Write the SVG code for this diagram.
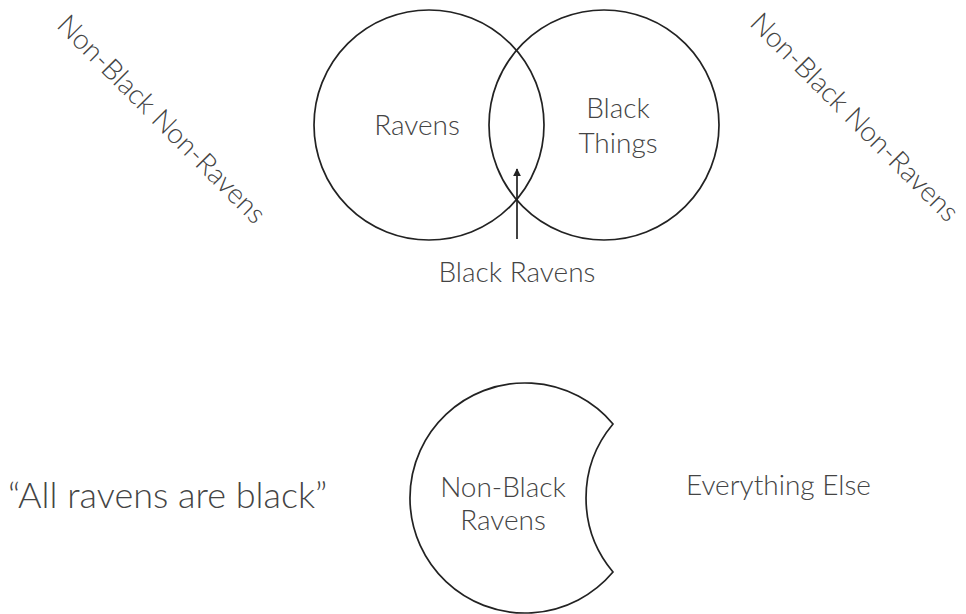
<svg xmlns="http://www.w3.org/2000/svg" width="966" height="614" viewBox="0 0 966 614">
<defs>
<style>
.t{font-family:Lato,"Open Sans","Liberation Sans",sans-serif;fill:#444;font-weight:300;font-size:28px}
.s{fill:none;stroke:#222;stroke-width:1.7}
</style>
<marker id="ah" viewBox="0 0 10 10" refX="9" refY="5" markerWidth="8" markerHeight="8" markerUnits="userSpaceOnUse" orient="auto">
<path d="M0,0 L10,5 L0,10 Z" fill="#222"/>
</marker>
</defs>
<rect width="966" height="614" fill="#fff"/>
<g id="ravens">
<circle class="s" cx="429" cy="125" r="115"/>
<text class="t" x="417" y="135" text-anchor="middle">Ravens</text>
</g>
<g id="black-things">
<circle class="s" cx="604" cy="125" r="115"/>
<text class="t" x="618" y="118" text-anchor="middle">Black</text>
<text class="t" x="618" y="153" text-anchor="middle">Things</text>
</g>
<g id="black-ravens">
<text class="t" x="517" y="282" text-anchor="middle">Black Ravens</text>
</g>
<g id="non-black-left">
<text class="t" text-anchor="middle" transform="translate(155,126) rotate(45)">Non-Black Non-Ravens</text>
</g>
<g id="non-black-right">
<text class="t" text-anchor="middle" transform="translate(848,124) rotate(45)">Non-Black Non-Ravens</text>
</g>
<g id="quote">
<text class="t" x="8" y="508" style="font-size:36px">“All ravens are black”</text>
</g>
<g id="non-black-ravens">
<path class="s" d="M613,424 A115,115 0 1 0 613,572 A115,115 0 0 1 613,424 Z"/>
<text class="t" x="503" y="497" text-anchor="middle">Non-Black</text>
<text class="t" x="503" y="530" text-anchor="middle">Ravens</text>
</g>
<g id="everything-else">
<text class="t" x="686" y="495">Everything Else</text>
</g>
<g id="connectors">
<line x1="517" y1="239" x2="517" y2="169" stroke="#222" stroke-width="1.7" marker-end="url(#ah)"/>
</g>
</svg>
